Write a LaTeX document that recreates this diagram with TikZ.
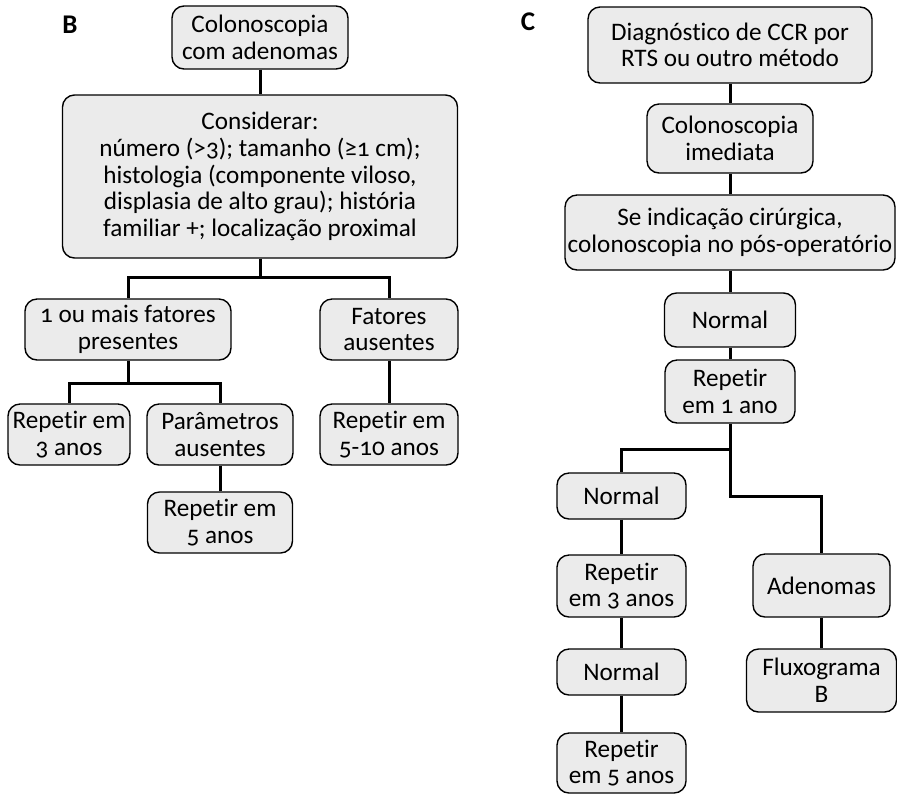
\documentclass[tikz,border=0pt]{standalone}
\usepackage{fontspec}
\setmainfont{Carlito}[Numbers=OldStyle, Ligatures=NoCommon]
\usepackage{tikz}
\usetikzlibrary{positioning, calc}
\definecolor{boxgray}{HTML}{EBEBEB}

\begin{document}
\begin{tikzpicture}[
  x=0.5pt, y=-0.5pt,
  every node/.style={font=\fontsize{12.6}{13.3}\selectfont},
  box/.style={rectangle, rounded corners=6pt, draw=black, line width=0.7pt, fill=boxgray, align=center, inner sep=0pt},
  panel/.style={font=\fontsize{13.5}{14}\selectfont\bfseries},
  link/.style={line width=1.5pt, black},
]
\useasboundingbox (0,0) rectangle (897,794);

% Panel B: adenomas
\node[panel] (lblB) at (70,25) {B};
\node[box, minimum width=88pt, minimum height=31.5pt] (col) at (260,37.5) {Colonoscopia\\com adenomas};
\node[box, minimum width=197.5pt, minimum height=81.5pt] (cons) at (260,176.5) {Considerar:\\número (>3); tamanho (≥1 cm);\\histologia (componente viloso,\\displasia de alto grau); história\\familiar +; localização proximal};
\node[box, minimum width=103pt, minimum height=30.5pt] (pres) at (128,329.5) {1 ou mais fatores\\presentes};
\node[box, minimum width=69pt, minimum height=30.5pt] (aus) at (389,329.5) {Fatores\\ausentes};
\node[box, minimum width=61pt, minimum height=30.5pt] (rtres) at (69,434.5) {Repetir em\\3 anos};
\node[box, minimum width=73pt, minimum height=30.5pt] (param) at (220,434.5) {Parâmetros\\ausentes};
\node[box, minimum width=69pt, minimum height=30.5pt] (rdez) at (389,434.5) {Repetir em\\5-10 anos};
\node[box, minimum width=72.5pt, minimum height=30.5pt] (rcinco) at (220,522.5) {Repetir em\\5 anos};

\coordinate[below=9.5pt of cons.south] (jcons);
\coordinate[below=11.5pt of pres.south] (jpres);

\draw[link] (col) -- (cons);
\draw[link] (cons.south) -- (jcons);
\draw[link] (jcons) -| (pres.north);
\draw[link] (jcons) -| (aus.north);
\draw[link] (pres.south) -- (jpres);
\draw[link] (jpres) -| (rtres.north);
\draw[link] (jpres) -| (param.north);
\draw[link] (aus) -- (rdez);
\draw[link] (param) -- (rcinco);

% Panel C: after CRC
\node[panel] (lblC) at (528,22) {C};
\node[box, minimum width=142pt, minimum height=38pt] (diag) at (730,45) {Diagnóstico de CCR por\\RTS ou outro método};
\node[box, minimum width=83pt, minimum height=34.5pt] (imed) at (730,138.5) {Colonoscopia\\imediata};
\node[box, minimum width=165pt, minimum height=37.5pt] (cir) at (730,232.5) {Se indicação cirúrgica,\\colonoscopia no pós-operatório};
\node[box, minimum width=65.5pt, minimum height=27pt] (normA) at (730,320) {Normal};
\node[box, minimum width=65pt, minimum height=31.5pt] (rum) at (730,391.5) {Repetir\\em 1 ano};
\node[box, minimum width=64.5pt, minimum height=23pt] (normB) at (621.5,496) {Normal};
\node[box, minimum width=64.5pt, minimum height=31pt] (rtresC) at (621.5,586) {Repetir\\em 3 anos};
\node[box, minimum width=64.5pt, minimum height=23pt] (normC) at (621.5,672) {Normal};
\node[box, minimum width=64.5pt, minimum height=30pt] (rcincoC) at (621.5,763) {Repetir\\em 5 anos};
\node[box, minimum width=68.5pt, minimum height=31.5pt] (aden) at (821.5,585.5) {Adenomas};
\node[box, minimum width=75pt, minimum height=31.5pt] (flux) at (821.5,680.5) {Fluxograma\\B};

\coordinate[below=13pt of rum.south] (jrum);
\coordinate[below=23.5pt of jrum] (jaden);

\draw[link] (diag) -- (imed);
\draw[link] (imed) -- (cir);
\draw[link] (cir) -- (normA);
\draw[link] (normA) -- (rum);
\draw[link] (rum.south) -- (jaden) -| (aden.north);
\draw[link] (jrum) -| (normB.north);
\draw[link] (normB) -- (rtresC);
\draw[link] (rtresC) -- (normC);
\draw[link] (normC) -- (rcincoC);
\draw[link] (aden) -- (flux);

\end{tikzpicture}
\end{document}
